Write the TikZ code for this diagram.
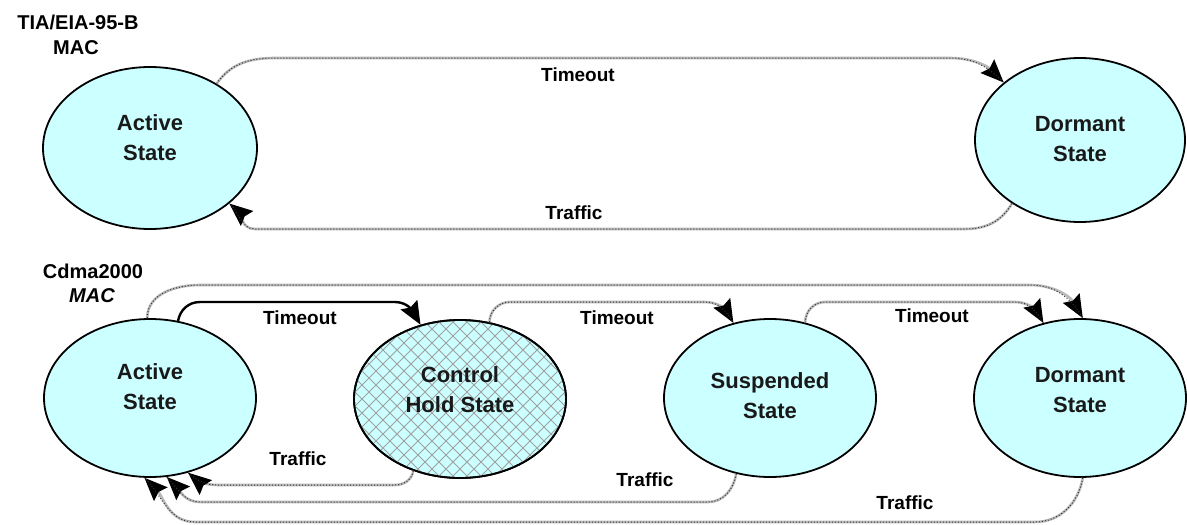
\documentclass[tikz,border=0pt]{standalone}
\usepackage{fontspec}
\setmainfont{Liberation Sans}
\usetikzlibrary{shapes.geometric,arrows.meta}
\definecolor{cyanfill}{HTML}{CCFFFF}
\definecolor{hatchgray}{HTML}{A0A0A0}
\begin{document}
\begin{tikzpicture}[x=1pt,y=-1pt,
  stateE/.style={ellipse, draw=black, line width=1.8pt, fill=cyanfill, inner sep=0pt, minimum width=212pt, minimum height=158pt},
  stext/.style={font=\fontsize{22}{30}\selectfont\bfseries, align=center, text=black!90},
  lbl/.style={font=\fontsize{19}{22}\selectfont\bfseries},
  hdr/.style={font=\fontsize{20}{24}\selectfont\bfseries},
  bigtip/.style={-{Stealth[length=23pt,width=19pt,inset=3pt,color=black]}},
  conn/.style={draw=gray!55, line width=2.6pt, bigtip, postaction={draw=black!80, line width=1pt, dash pattern=on 1pt off 2pt, -}},
  connb/.style={draw=black, line width=2.4pt, bigtip},
  hatchline/.style={draw=hatchgray, line width=0.9pt}
]
\useasboundingbox (0,0) rectangle (1187,525);

% headers
\node[hdr] (h1) at (78,22) {TIA/EIA-95-B};
\node[hdr] (h2) at (76,48) {MAC};
\node[hdr] (h3) at (93,271) {Cdma2000};
\node[hdr, font=\fontsize{20}{24}\selectfont\bfseries\itshape] (h4) at (92,296) {MAC};

% top row
\node[stateE, minimum width=214pt, minimum height=162pt] (A1) at (150,148) {};
\node[stateE, minimum width=210pt, minimum height=164pt] (D1) at (1080,140) {};
\node[stext] (A1t) at (150,138) {Active\\State};
\node[stext] (D1t) at (1080,139) {Dormant\\State};

% bottom row
\node[stateE] (A2) at (150,398) {};
\node[stateE] (C) at (460,399) {};
\begin{scope}
  \clip (C.center) ellipse (106pt and 79pt);
  \foreach \k in {-308,-294,...,308} {
    \draw[hatchline] ([xshift=\k pt]C.center) ++(-170,-170) -- ++(340,340);
    \draw[hatchline] ([xshift=\k pt]C.center) ++(-170,170) -- ++(340,-340);
  }
\end{scope}
\draw[line width=1.8pt] (C.center) ellipse (106pt and 79pt);
\node[stateE] (S) at (770,398) {};
\node[stateE] (D2) at (1080,398) {};
\node[stext] (A2t) at (150,387) {Active\\State};
\node[stext] (Ct) at (460,390) {Control\\Hold State};
\node[stext] (St) at (770,396) {Suspended\\State};
\node[stext] (D2t) at (1080,390) {Dormant\\State};

% top connectors
\draw[conn] (A1.44) to[out=55,in=180] (275,58) -- (950,58) to[out=0,in=135] (D1.143);
\draw[conn] (D1.223) to[out=-120,in=0] (965,229) -- (255,229) to[out=180,in=-40] (A1.325);
\node[lbl] (l1) at (578,75) {Timeout};
\node[lbl] (l2) at (574,213) {Traffic};

% bottom connectors: timeouts
\draw[conn] (A2.92) to[out=90,in=180] (200,285) -- (1030,285) to[out=0,in=120] (D2.88);
\draw[connb] (A2.70) to[out=80,in=180] (200,302) -- (395,302) to[out=0,in=120] (C.118);
\draw[conn] (C.69) to[out=90,in=180] (510,302) -- (705,302) to[out=0,in=120] (S.116);
\draw[conn] (S.65) to[out=90,in=180] (825,302) -- (1015,302) to[out=0,in=120] (D2.116);
\node[lbl] (l3) at (300,318) {Timeout};
\node[lbl] (l4) at (617,318) {Timeout};
\node[lbl] (l5) at (932,316) {Timeout};

% bottom connectors: traffic
\draw[conn] (C.237) to[out=-100,in=0] (395,485) -- (218,485) to[out=180,in=-40] (A2.297);
\draw[conn] (S.246) to[out=-100,in=0] (708,502) -- (200,502) to[out=180,in=-45] (A2.282);
\draw[conn] (D2.272) to[out=-100,in=0] (1035,522) -- (195,522) to[out=180,in=-45] (A2.266);
\node[lbl] (l6) at (298,459) {Traffic};
\node[lbl] (l7) at (645,480) {Traffic};
\node[lbl] (l8) at (905,503) {Traffic};
\end{tikzpicture}
\end{document}
